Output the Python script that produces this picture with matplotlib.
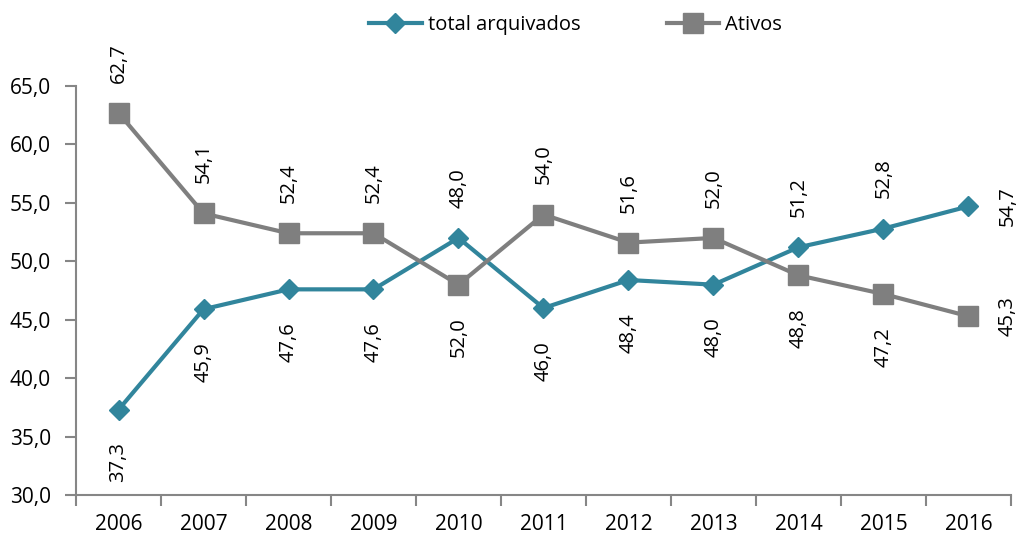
import numpy as np
import matplotlib
matplotlib.use('Agg')
import matplotlib.pyplot as plt

# dados
anos = ['2006', '2007', '2008', '2009', '2010', '2011', '2012', '2013', '2014', '2015', '2016']
total_arquivados = [37.3, 45.9, 47.6, 47.6, 52.0, 46.0, 48.4, 48.0, 51.2, 52.8, 54.7]
ativos = [62.7, 54.1, 52.4, 52.4, 48.0, 54.0, 51.6, 52.0, 48.8, 47.2, 45.3]
# posicao do rotulo de cada ponto
pos_total = ['below'] * 8 + ['above'] * 2 + ['right']
pos_ativos = ['above'] * 8 + ['below'] * 2 + ['right']

teal = '#31859C'
cinza = '#7F7F7F'
eixo = '#868686'

plt.rcParams['font.family'] = ['Open Sans', 'DejaVu Sans']

fig = plt.figure(figsize=(10.19, 5.38), dpi=100)
ax = fig.add_axes([0.0746, 0.0799, 0.9175, 0.7602])

x = np.arange(len(anos))
ax.plot(x, total_arquivados, color=teal, lw=3, marker='D', ms=10.5,
        label='total arquivados', zorder=3)
ax.plot(x, ativos, color=cinza, lw=3, marker='s', ms=14,
        label='Ativos', zorder=3)

ax.set_xlim(-0.5, len(anos) - 0.5)
ax.set_ylim(30, 65)
ax.set_yticks(np.arange(30, 66, 5))
ax.set_yticklabels([f'{v:.1f}'.replace('.', ',') for v in np.arange(30, 66, 5)])
ax.set_xticks(np.arange(-0.5, len(anos), 1))
ax.set_xticklabels([])
ax.set_xticks(x, minor=True)
ax.set_xticklabels(anos, minor=True)
ax.tick_params(axis='x', which='major', length=8, width=1.5, color=eixo)
ax.tick_params(axis='x', which='minor', length=0, pad=14, labelsize=15)
ax.tick_params(axis='y', length=8, width=1.5, color=eixo, pad=10, labelsize=15)

for s in ['top', 'right']:
    ax.spines[s].set_visible(False)
for s in ['left', 'bottom']:
    ax.spines[s].set_color(eixo)
    ax.spines[s].set_linewidth(1.5)


def rotulo(i, v, pos):
    hi = max(total_arquivados[i], ativos[i])
    lo = min(total_arquivados[i], ativos[i])
    if pos == 'above':
        y, off = hi, (0, 36)
    elif pos == 'below':
        y, off = lo, (0, -38)
    else:
        y, off = v, (28, 0)
    ax.annotate(f'{v:.1f}'.replace('.', ','), (i, y), xytext=off,
                textcoords='offset points', rotation=90, ha='center',
                va='center', fontsize=14.5, annotation_clip=False)


for i in range(len(anos)):
    rotulo(i, total_arquivados[i], pos_total[i])
    rotulo(i, ativos[i], pos_ativos[i])

fig.legend(loc='center', bbox_to_anchor=(0.565, 0.954), ncol=2, frameon=False,
           fontsize=14.5, handlelength=2.6, handletextpad=0.3, columnspacing=4.3)

fig.savefig('out.png', dpi=100)
